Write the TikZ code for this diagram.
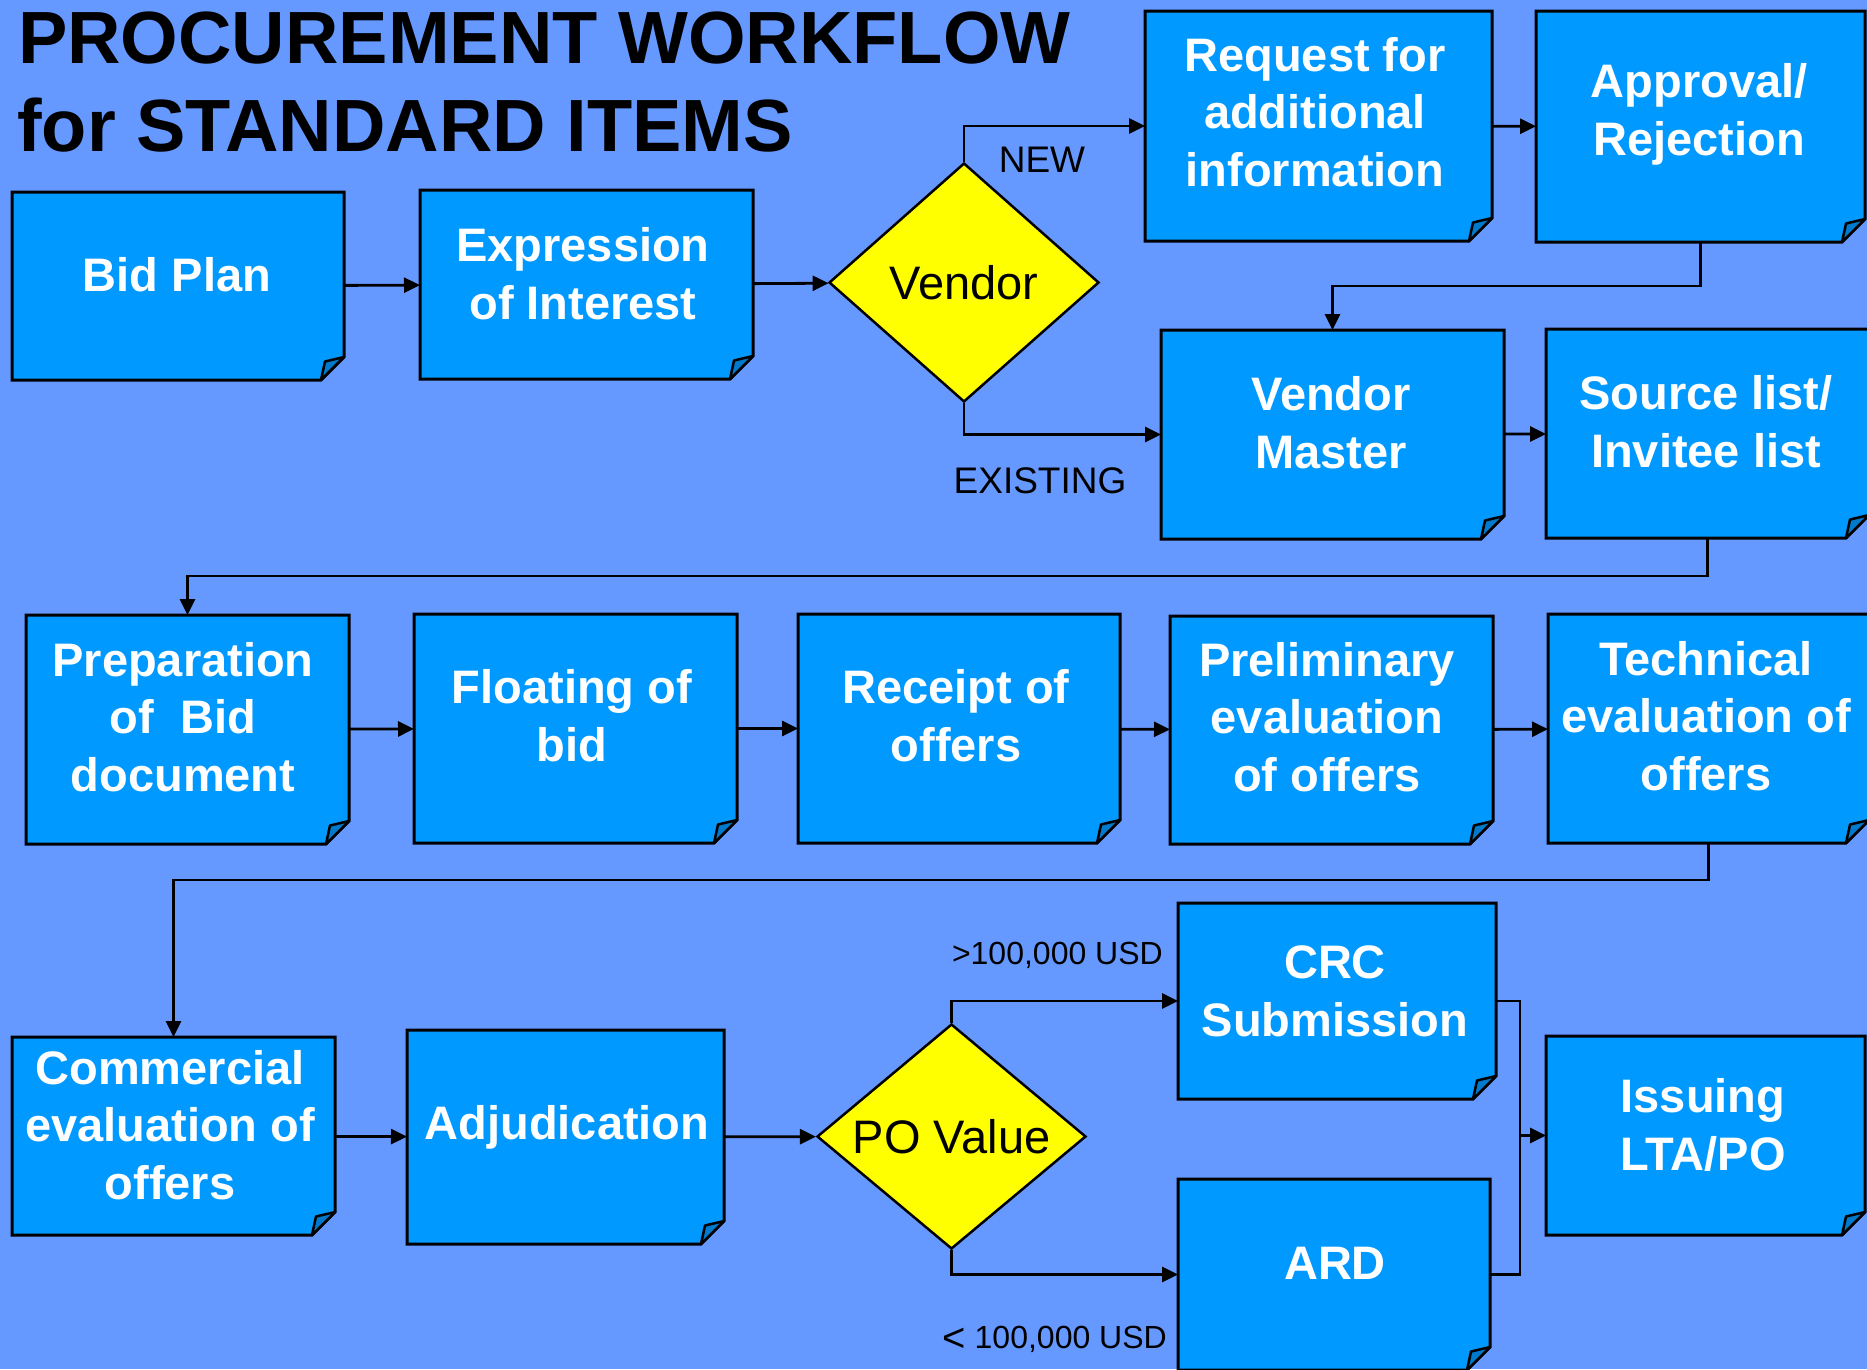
\documentclass[tikz,border=0pt]{standalone}
\usepackage{fontspec}
\setmainfont{Liberation Sans}
\usetikzlibrary{shapes.geometric,arrows.meta,fit}
\definecolor{bg}{RGB}{102,153,255}
\definecolor{boxblue}{RGB}{0,153,255}
\definecolor{foldblue}{RGB}{0,122,204}
\definecolor{dyellow}{RGB}{255,255,0}
\tikzset{
 boxarea/.style={rectangle, inner sep=0pt, outer sep=0pt, draw=none},
 boxline/.style={fill=boxblue, draw=black, line width=3pt, line join=miter},
 foldline/.style={fill=foldblue, draw=black, line width=2.5pt, line join=round},
 boxtext/.style={text=white, font=\bfseries\fontsize{47}{57.7}\selectfont, align=center, inner sep=0pt},
 decision/.style={diamond, draw=black, line width=2.5pt, fill=dyellow, inner sep=0pt, font=\fontsize{47}{56}\selectfont},
 conn/.style={draw=black, line width=2.8pt},
 arr/.style={conn, -{Triangle[length=16pt,width=15pt]}},
 lbl/.style={font=\fontsize{37}{44}\selectfont, inner sep=0pt},
 money/.style={font=\fontsize{32}{38}\selectfont, inner sep=0pt, anchor=base east},
 title/.style={font=\bfseries\fontsize{74}{88}\selectfont, inner sep=0pt, anchor=base west},
}
\newcommand\foldbox[3]{%
 \coordinate (#1-nw) at (#2);
 \coordinate (#1-se) at (#3);
 \node[boxarea, fit=(#1-nw)(#1-se)] (#1) {};
 \path[boxline] (#1.north west) -- (#1.north east) -- ([yshift=23pt]#1.south east) -- ([xshift=-23pt]#1.south east) -- (#1.south west) -- cycle;
 \path[foldline] ([yshift=23pt]#1.south east) -- ([xshift=-23pt]#1.south east) -- ([xshift=-19pt,yshift=18.5pt]#1.south east) -- cycle;
}
\begin{document}
\begin{tikzpicture}[x=1pt,y=-1pt]
\fill[bg] (0,0) rectangle (1867,1369);
\useasboundingbox (0,0) rectangle (1867,1369);

\node[title] (t1) at (18,63) {PROCUREMENT WORKFLOW};
\node[title] (t2) at (17,151) {for STANDARD ITEMS};

\foldbox{bid}{12,192}{344,380}
\foldbox{eoi}{420,190}{753,379}
\foldbox{req}{1145,11}{1492,241}
\foldbox{appr}{1536,11}{1865,242}
\foldbox{vm}{1161,330}{1504,539}
\foldbox{sl}{1546,329}{1869,538}
\foldbox{prep}{26,615}{349,844}
\foldbox{flo}{414,614}{737,843}
\foldbox{rec}{798,614}{1120,843}
\foldbox{pre}{1170,616}{1493,844}
\foldbox{tech}{1548,614}{1869,843}
\foldbox{comm}{12,1037}{335,1235}
\foldbox{adj}{407,1030}{724,1244}
\foldbox{crc}{1178,903}{1496,1099}
\foldbox{ard}{1178,1179}{1490,1370}
\foldbox{iss}{1546,1036}{1865,1235}

\node[decision, minimum width=270pt, minimum height=239pt, aspect=1.13] (ven) at (964,282.5) {Vendor};
\node[decision, minimum width=269pt, minimum height=225pt, aspect=1.2] (po) at (951.5,1136.5) {PO Value};

\node[boxtext] (bidt) at (177,275) {Bid Plan};
\node[boxtext] (eoit) at (583,274) {Expression\\of Interest};
\node[boxtext] (reqt) at (1315,112) {Request for\\additional\\information};
\node[boxtext] (apprt) at (1699,114) {Approval/\\Rejection};
\node[boxtext] (vmt) at (1331,423) {Vendor\\Master};
\node[boxtext] (slt) at (1706,422) {Source list/\\Invitee list};
\node[boxtext] (prept) at (183,717) {Preparation\\of~~Bid\\document};
\node[boxtext] (flot) at (572,716) {Floating of\\bid};
\node[boxtext] (rect) at (956,716) {Receipt of\\offers};
\node[boxtext] (pret) at (1327,717) {Preliminary\\evaluation\\of offers};
\node[boxtext] (techt) at (1706,716) {Technical\\evaluation of\\offers};
\node[boxtext] (commt) at (170,1125) {Commercial\\evaluation of\\offers};
\node[boxtext] (adjt) at (567,1127) {Adjudication};
\node[boxtext] (crct) at (1335,991) {CRC\\Submission};
\node[boxtext] (ardt) at (1335,1263) {ARD};
\node[boxtext] (isst) at (1703,1125) {Issuing\\LTA/PO};

\draw[arr] (bid) -- (eoi);
\draw[arr] (eoi) -- (ven);
\draw[arr] (ven.north) |- (req.west);
\draw[arr] (ven.south) |- (vm.west);
\draw[arr] (req) -- (appr);
\draw[arr] (appr.south) -- ++(0,44) -| (vm.north);
\draw[arr] (vm) -- (sl);
\draw[arr] (sl.south) -- ++(0,38) -| (prep.north);
\draw[arr] (prep) -- (flo);
\draw[arr] (flo) -- (rec);
\draw[arr] (rec) -- (pre);
\draw[arr] (pre) -- (tech);
\draw[arr] (tech.south) -- ++(0,37) -| (comm.north);
\draw[arr] (comm) -- (adj);
\draw[arr] (adj) -- (po);
\draw[arr] (po.north) |- (crc.west);
\draw[arr] (po.south) |- (ard.west);
\coordinate (jn) at ([xshift=-26pt]iss.west);
\draw[conn] (crc.east) -| (jn) |- (ard.east);
\draw[arr] (jn) -- (iss.west);

\node[lbl] (new) at (1042,160) {NEW};
\node[lbl] (exist) at (1040,481) {EXISTING};
\node[money] (gt) at (1163,964) {>100,000 USD};
\node[money] (lt) at (1167,1348) {\raisebox{-3pt}{\fontsize{40}{40}\selectfont <} 100,000 USD};
\end{tikzpicture}
\end{document}
